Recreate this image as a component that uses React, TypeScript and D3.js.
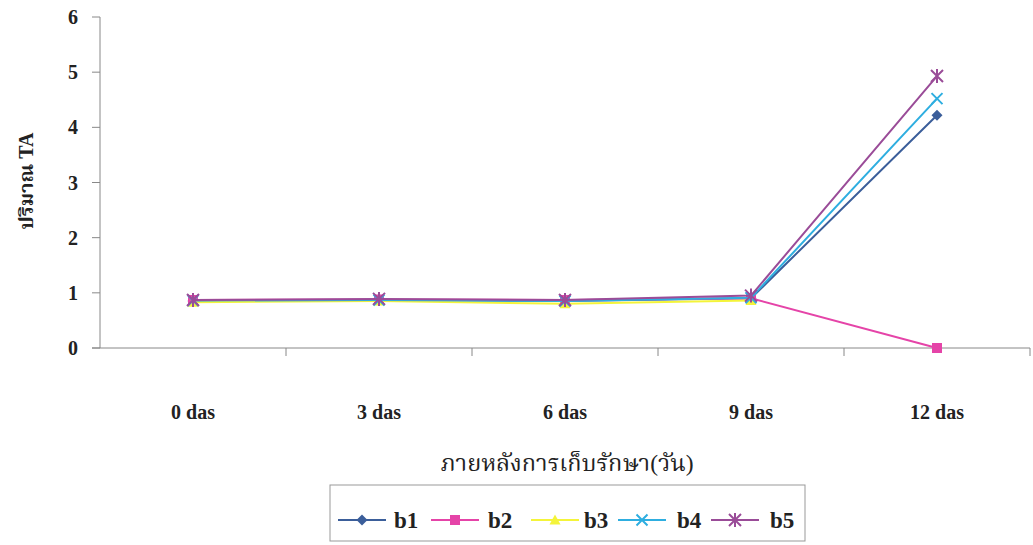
import React from "react";
import * as d3 from "d3";

const categories = ["0 das", "3 das", "6 das", "9 das", "12 das"];
const seriesNames = ["b1", "b2", "b3", "b4", "b5"];
const b1 = [0.85, 0.87, 0.85, 0.9, 4.22];
const b2 = [0.87, 0.88, 0.87, 0.9, 0.0];
const b3: (number | null)[] = [0.83, 0.85, 0.8, 0.86, null];
const b4 = [0.86, 0.87, 0.85, 0.91, 4.52];
const b5 = [0.87, 0.89, 0.87, 0.95, 4.93];
const yTicks = [0, 1, 2, 3, 4, 5, 6];
const colors = ["#3b5e9a", "#e544a8", "#f4f43a", "#2eaee0", "#9a4c98"];
const markers = ["diamond", "square", "triangle", "x", "star"];
const seriesValues = [b1, b2, b3, b4, b5];

const W = 1033;
const H = 545;
const left = 100;
const right = 1030;
const top = 17;
const bottom = 348;

const x = d3.scaleBand<string>().domain(categories).range([left, right]);
const y = d3.scaleLinear().domain([0, 6]).range([bottom, top]);

function Marker({ kind, cx, cy, color }: { kind: string; cx: number; cy: number; color: string }) {
  if (kind === "diamond") {
    const s = 5.5;
    return <path d={`M${cx},${cy - s}L${cx + s},${cy}L${cx},${cy + s}L${cx - s},${cy}Z`} fill={color} />;
  }
  if (kind === "square") {
    return <rect x={cx - 5} y={cy - 5} width={10} height={10} fill={color} />;
  }
  if (kind === "triangle") {
    return <path d={`M${cx},${cy - 5.5}L${cx + 5.5},${cy + 4.5}L${cx - 5.5},${cy + 4.5}Z`} fill={color} />;
  }
  if (kind === "x") {
    const s = 5.5;
    return (
      <path
        d={`M${cx - s},${cy - s}L${cx + s},${cy + s}M${cx - s},${cy + s}L${cx + s},${cy - s}`}
        stroke={color}
        strokeWidth={2}
      />
    );
  }
  const s = 6;
  return (
    <path
      d={`M${cx - s},${cy - s}L${cx + s},${cy + s}M${cx - s},${cy + s}L${cx + s},${cy - s}M${cx},${cy - s - 1}L${cx},${cy + s + 1}`}
      stroke={color}
      strokeWidth={2}
    />
  );
}

export default function App() {
  const cx = (c: string) => (x(c) ?? 0) + x.bandwidth() / 2;
  const line = d3
    .line<number | null>()
    .defined((d) => d != null)
    .x((_, i) => cx(categories[i]))
    .y((d) => y(d as number));

  const serif = "'Liberation Serif', 'Times New Roman', serif";
  const thai = "'Liberation Serif', 'Noto Serif Thai', 'Noto Sans Thai', serif";

  const legendItems = [
    { x: 338, tx: 394 },
    { x: 431, tx: 488 },
    { x: 531, tx: 584 },
    { x: 618, tx: 677 },
    { x: 711, tx: 770 },
  ];
  const legendY = 520;

  return (
    <svg width={W} height={H} style={{ position: "absolute", left: 0, top: 0, background: "#fff" }}>
      {/* y axis */}
      <line x1={left} x2={left} y1={top} y2={bottom} stroke="#888" strokeWidth={1} />
      {yTicks.map((t) => (
        <g key={t}>
          <line x1={left - 8} x2={left} y1={y(t)} y2={y(t)} stroke="#888" />
          <text
            x={78}
            y={y(t)}
            dy="0.35em"
            textAnchor="end"
            fontFamily={serif}
            fontWeight="bold"
            fontSize={20}
            fill="#222"
          >
            {t}
          </text>
        </g>
      ))}
      {/* x axis */}
      <line x1={left - 8} x2={right} y1={bottom} y2={bottom} stroke="#888" />
      {categories.slice(1).map((c) => (
        <line key={c} x1={x(c)} x2={x(c)} y1={bottom} y2={bottom + 8} stroke="#888" />
      ))}
      <line x1={right} x2={right} y1={bottom} y2={bottom + 8} stroke="#888" />
      {categories.map((c) => (
        <text
          key={c}
          x={cx(c)}
          y={419}
          textAnchor="middle"
          fontFamily={serif}
          fontWeight="bold"
          fontSize={20}
          fill="#222"
        >
          {c}
        </text>
      ))}
      <text x={567} y={471} textAnchor="middle" fontFamily={thai} fontSize={23.5} fill="#222">
        ภายหลังการเก็บรักษา(วัน)
      </text>
      <text
        transform={`translate(33,181) rotate(-90)`}
        textAnchor="middle"
        fontFamily={thai}
        fontWeight="bold"
        fontSize={20}
        fill="#222"
      >
        ปริมาณ TA
      </text>

      {/* series */}
      {seriesValues.map((vals, si) => (
        <g key={seriesNames[si]}>
          <path d={line(vals) ?? ""} fill="none" stroke={colors[si]} strokeWidth={2} />
          {vals.map((v, i) =>
            v == null ? null : (
              <Marker key={i} kind={markers[si]} cx={cx(categories[i])} cy={y(v)} color={colors[si]} />
            )
          )}
        </g>
      ))}

      {/* legend */}
      <rect x={330} y={485} width={475} height={56} fill="#fff" stroke="#999" />
      {legendItems.map((it, si) => (
        <g key={seriesNames[si]}>
          <line x1={it.x} x2={it.x + 48} y1={legendY} y2={legendY} stroke={colors[si]} strokeWidth={2} />
          <Marker kind={markers[si]} cx={it.x + 24} cy={legendY} color={colors[si]} />
          <text
            x={it.tx}
            y={legendY}
            dy="0.35em"
            fontFamily={serif}
            fontWeight="bold"
            fontSize={23}
            fill="#222"
          >
            {seriesNames[si]}
          </text>
        </g>
      ))}
    </svg>
  );
}
